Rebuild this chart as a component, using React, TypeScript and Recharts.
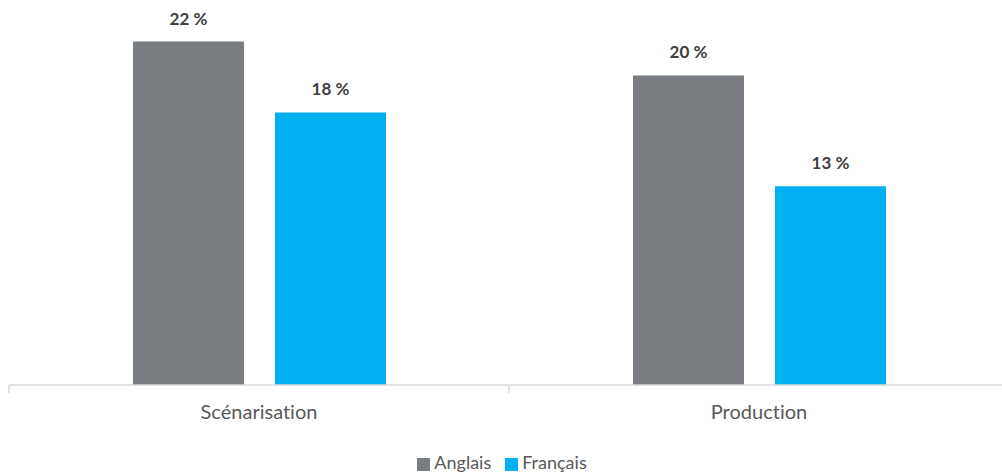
import { BarChart, Bar, XAxis, YAxis, LabelList, Legend } from "recharts";

const categories = ["Scénarisation", "Production"];
const anglais = [22.3, 20.1];
const francais = [17.7, 12.9];

const data = categories.map((name, i) => ({ name, anglais: anglais[i], francais: francais[i] }));

const GREY = "#797c80";
const BLUE = "#00b0f0";
const FONT = "Lato, sans-serif";

function CategoryTick(props: any) {
  const { x, y, payload, index, width, visibleTicksCount } = props;
  const band = width / visibleTicksCount;
  const left = x - band / 2;
  return (
    <g>
      <line x1={left} y1={y} x2={left} y2={y + 8} stroke="#d9d9d9" strokeWidth={1.5} />
      {index === visibleTicksCount - 1 && (
        <line x1={x + band / 2} y1={y} x2={x + band / 2} y2={y + 8} stroke="#d9d9d9" strokeWidth={1.5} />
      )}
      <text
        x={x}
        y={y + 34}
        textAnchor="middle"
        fill="#595959"
        fontSize={20}
        fontFamily={FONT}
        style={{ fontVariantLigatures: "none" }}
      >
        {payload.value}
      </text>
    </g>
  );
}

const fmt = (v: any) => `${Math.round(Number(v))} %`;

export default function App() {
  return (
    <div style={{ position: "absolute", left: 0, top: 0, width: 1002, height: 473, overflow: "hidden", background: "#fff" }}>
      <BarChart
        width={1010}
        height={473}
        data={data}
        margin={{ top: 0, right: 1, bottom: 0, left: 9 }}
        barCategoryGap="24.8%"
        barGap={31}
      >
        <XAxis
          dataKey="name"
          height={40}
          tickLine={false}
          tickSize={0}
          tickMargin={0}
          axisLine={{ stroke: "#d9d9d9", strokeWidth: 1.5 }}
          tick={<CategoryTick />}
          interval={0}
        />
        <YAxis hide domain={[0, 25]} />
        <Legend
          verticalAlign="bottom"
          height={21}
          iconType="square"
          iconSize={13}
          wrapperStyle={{ paddingTop: 27, fontFamily: FONT, fontSize: 18, lineHeight: "20px" }}
          formatter={(value: string) => <span style={{ color: "#595959", marginRight: 4 }}>{value}</span>}
        />
        <Bar dataKey="anglais" name="Anglais" fill={GREY} isAnimationActive={false}>
          <LabelList dataKey="anglais" position="top" offset={17} formatter={fmt} fill="#404040" fontSize={17} fontWeight="bold" fontFamily={FONT} />
        </Bar>
        <Bar dataKey="francais" name="Français" fill={BLUE} isAnimationActive={false}>
          <LabelList dataKey="francais" position="top" offset={17} formatter={fmt} fill="#404040" fontSize={17} fontWeight="bold" fontFamily={FONT} />
        </Bar>
      </BarChart>
    </div>
  );
}
